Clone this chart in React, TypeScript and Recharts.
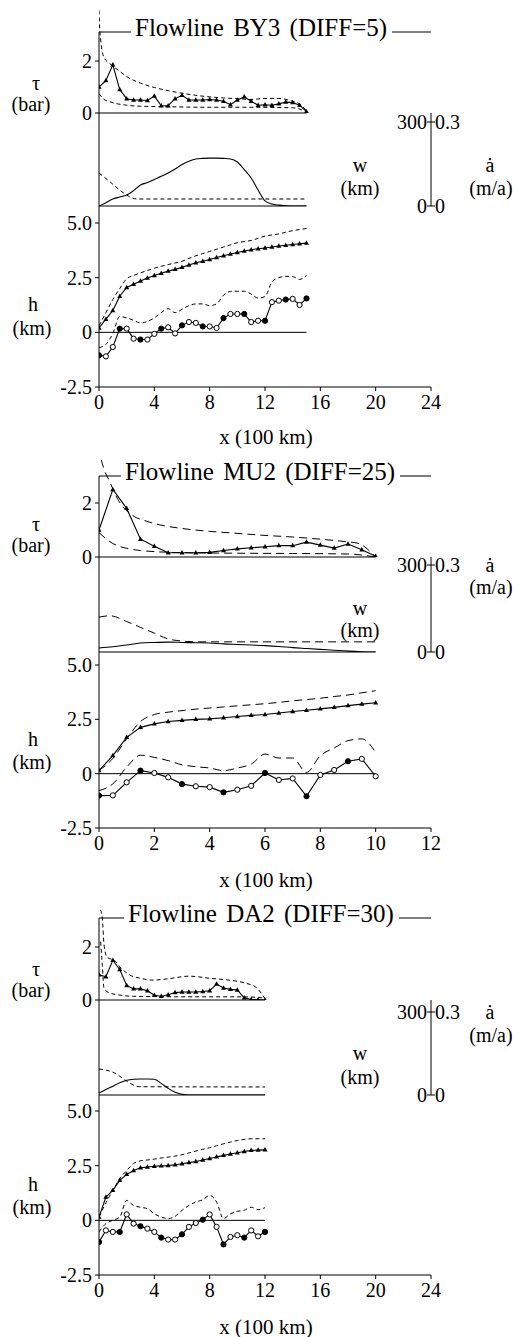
import React from "react";
import { ComposedChart, Line, XAxis, YAxis, ReferenceLine } from "recharts";

const FONT = "Liberation Serif, Times New Roman, Times, serif";

// ---------- Flowline BY3 (DIFF=5) ----------
const BY3_X = [0, 0.5, 1, 1.5, 2, 2.5, 3, 3.5, 4, 4.5, 5, 5.5, 6, 6.5, 7, 7.5, 8, 8.5, 9, 9.5, 10, 10.5, 11, 11.5, 12, 12.5, 13, 13.5, 14, 14.5, 15];
const BY3_TAU = [1.0, 1.25, 1.85, 0.9, 0.55, 0.5, 0.5, 0.48, 0.65, 0.28, 0.28, 0.55, 0.68, 0.5, 0.5, 0.5, 0.52, 0.5, 0.45, 0.32, 0.5, 0.62, 0.45, 0.3, 0.32, 0.3, 0.35, 0.42, 0.4, 0.3, 0.05];
const BY3_TAU_HI_X = [0, 0.07, 0.35, 0.9, 1.5, 2, 3, 4, 5, 6, 7, 8, 9, 10, 11, 12, 13, 14, 14.5, 15];
const BY3_TAU_HI = [3.95, 3.1, 2.15, 1.85, 1.6, 1.4, 1.15, 0.98, 0.86, 0.76, 0.68, 0.62, 0.58, 0.55, 0.52, 0.56, 0.56, 0.45, 0.35, 0.08];
const BY3_TAU_LO_X = [0, 0.3, 0.8, 2, 3, 5, 8, 11, 14, 15];
const BY3_TAU_LO = [0.75, 0.55, 0.43, 0.3, 0.26, 0.24, 0.22, 0.22, 0.2, 0.05];
const BY3_W = [0, 12, 25, 32, 39, 55, 75, 84, 95, 106, 118, 132, 148, 160, 168, 170, 171, 171, 170, 168, 157, 130, 100, 57, 18, 7, 3, 1, 0, 0, 0];
const BY3_ACC_X = [0, 0.8, 1.5, 2.25, 2.75, 15];
const BY3_ACC = [0.118, 0.086, 0.057, 0.032, 0.025, 0.025];
const BY3_SURF = [0.2, 0.6, 1.0, 1.65, 2.05, 2.2, 2.35, 2.48, 2.6, 2.7, 2.8, 2.88, 2.97, 3.08, 3.18, 3.25, 3.33, 3.42, 3.5, 3.58, 3.65, 3.72, 3.78, 3.82, 3.86, 3.9, 3.95, 3.98, 4.02, 4.05, 4.08];
const BY3_SURF_HI = [0.3, 0.9, 1.5, 2.0, 2.45, 2.6, 2.72, 2.83, 2.93, 3.02, 3.1, 3.17, 3.25, 3.38, 3.5, 3.6, 3.7, 3.8, 3.9, 4.0, 4.1, 4.15, 4.2, 4.3, 4.4, 4.45, 4.5, 4.58, 4.65, 4.7, 4.75];
const BY3_BED = [-1.05, -1.1, -0.67, 0.17, 0.17, -0.29, -0.33, -0.33, -0.07, 0.17, 0.23, -0.05, 0.32, 0.47, 0.43, 0.27, 0.27, 0.2, 0.65, 0.84, 0.84, 0.84, 0.47, 0.53, 0.53, 1.38, 1.45, 1.5, 1.53, 1.25, 1.55];
const BY3_BED_HI = [-0.7, -0.55, -0.05, 0.72, 0.66, 0.55, 0.43, 0.5, 0.66, 0.9, 1.08, 0.9, 1.05, 1.22, 1.3, 1.3, 1.22, 1.3, 1.7, 1.87, 1.88, 1.88, 1.75, 1.57, 1.64, 2.3, 2.5, 2.56, 2.55, 2.42, 2.6];
const BY3_XTICKS = [0, 4, 8, 12, 16, 20, 24];

// ---------- Flowline MU2 (DIFF=25) ----------
const MU2_X = [0, 0.5, 1, 1.5, 2, 2.5, 3, 3.5, 4, 4.5, 5, 5.5, 6, 6.5, 7, 7.5, 8, 8.5, 9, 9.5, 10];
const MU2_TAU = [1.0, 2.5, 1.8, 0.66, 0.4, 0.16, 0.16, 0.16, 0.17, 0.24, 0.3, 0.34, 0.38, 0.42, 0.42, 0.55, 0.44, 0.33, 0.48, 0.27, 0.03];
const MU2_TAU_HI_X = [0.08, 0.2, 0.36, 0.7, 1.2, 1.7, 2.2, 2.9, 4, 4.8, 6, 7, 8, 8.9, 9.4, 9.75, 10];
const MU2_TAU_HI = [3.6, 3.2, 2.85, 2.1, 1.55, 1.33, 1.19, 1.07, 0.95, 0.89, 0.8, 0.74, 0.66, 0.57, 0.5, 0.25, 0.0];
const MU2_TAU_LO_X = [0, 0.5, 1, 1.5, 2, 3, 5, 7, 9, 10];
const MU2_TAU_LO = [0.9, 0.5, 0.32, 0.24, 0.2, 0.16, 0.14, 0.13, 0.11, 0.0];
const MU2_W = [14, 18, 24, 31, 33, 34, 33, 32, 31, 28, 26, 24, 22, 19, 15, 12, 9, 6, 3, 1, 0];
const MU2_ACC_X = [0, 0.4, 1, 1.5, 2, 2.5, 3, 3.5, 10];
const MU2_ACC = [0.12, 0.125, 0.105, 0.085, 0.065, 0.045, 0.038, 0.035, 0.035];
const MU2_SURF = [0.14, 0.83, 1.67, 2.13, 2.29, 2.4, 2.45, 2.5, 2.52, 2.57, 2.63, 2.68, 2.72, 2.79, 2.86, 2.92, 2.98, 3.05, 3.13, 3.2, 3.26];
const MU2_SURF_HI = [0.14, 0.7, 1.6, 2.4, 2.72, 2.83, 2.9, 2.97, 3.02, 3.07, 3.12, 3.17, 3.22, 3.28, 3.35, 3.41, 3.47, 3.55, 3.62, 3.72, 3.82];
const MU2_BED = [-1.01, -1.0, -0.4, 0.14, 0.03, -0.17, -0.48, -0.58, -0.62, -0.86, -0.74, -0.56, 0.03, -0.29, -0.22, -1.04, -0.06, 0.17, 0.57, 0.68, -0.12];
const MU2_BED_HI = [-0.78, -0.47, 0.3, 0.85, 0.75, 0.6, 0.41, 0.32, 0.26, 0.14, 0.26, 0.44, 0.9, 0.72, 0.72, 0.06, 0.83, 1.18, 1.52, 1.6, 0.98];
const MU2_XTICKS = [0, 2, 4, 6, 8, 10, 12];

// ---------- Flowline DA2 (DIFF=30) ----------
const DA2_X = [0, 0.5, 1, 1.5, 2, 2.5, 3, 3.5, 4, 4.5, 5, 5.5, 6, 6.5, 7, 7.5, 8, 8.5, 9, 9.5, 10, 10.5, 11, 11.5, 12];
const DA2_TAU = [0.95, 0.88, 1.5, 1.15, 0.55, 0.42, 0.42, 0.35, 0.18, 0.14, 0.2, 0.28, 0.3, 0.3, 0.3, 0.32, 0.35, 0.6, 0.45, 0.4, 0.38, 0.08, 0.02, 0.01, 0.0];
const DA2_TAU_HI_X = [0.1, 0.24, 0.36, 0.6, 1.1, 1.6, 2.2, 3, 3.8, 5, 6.5, 8, 9.4, 10.5, 11.4, 11.8, 12];
const DA2_TAU_HI = [3.4, 3.1, 2.1, 1.6, 1.5, 1.2, 0.95, 0.82, 0.75, 0.8, 0.9, 0.82, 0.75, 0.65, 0.46, 0.2, 0.05];
const DA2_TAU_LO_X = [0.12, 0.24, 0.36, 0.7, 1.45, 2.5, 4, 6, 8, 10, 11.5, 12];
const DA2_TAU_LO = [2.2, 1.3, 0.45, 0.28, 0.19, 0.14, 0.13, 0.12, 0.12, 0.12, 0.1, 0.05];
const DA2_W = [7, 20, 32, 44, 53, 57, 58, 58, 57, 42, 24, 10, 3, 0, 0, 0, 0, 0, 0, 0, 0, 0, 0, 0, 0];
const DA2_ACC_X = [0, 1.2, 2, 2.9, 12];
const DA2_ACC = [0.094, 0.078, 0.05, 0.03, 0.029];
const DA2_SURF = [0.15, 1.06, 1.37, 1.83, 2.1, 2.28, 2.4, 2.44, 2.47, 2.49, 2.5, 2.54, 2.59, 2.64, 2.69, 2.76, 2.83, 2.9, 2.97, 3.03, 3.09, 3.15, 3.2, 3.21, 3.22];
const DA2_SURF_HI = [0.15, 0.8, 1.37, 1.9, 2.28, 2.6, 2.72, 2.76, 2.8, 2.85, 2.89, 2.94, 3.0, 3.08, 3.17, 3.25, 3.32, 3.41, 3.5, 3.58, 3.65, 3.7, 3.73, 3.73, 3.73];
const DA2_BED = [-0.99, -0.46, -0.53, -0.53, 0.27, -0.15, -0.27, -0.38, -0.53, -0.79, -0.88, -0.88, -0.64, -0.3, -0.12, 0.03, 0.27, -0.3, -1.1, -0.76, -0.68, -0.79, -0.46, -0.73, -0.53];
const DA2_BED_HI = [-0.53, -0.15, 0, 0.15, 0.91, 0.68, 0.6, 0.53, 0.3, 0.15, 0.08, 0.18, 0.46, 0.68, 0.84, 0.94, 1.14, 0.84, 0.08, 0.3, 0.41, 0.46, 0.6, 0.49, 0.58];
const DA2_XTICKS = [0, 4, 8, 12, 16, 20, 24];

const TAU_TICKS = [0, 2];
const H_TICKS = [-2.5, 0, 2.5, 5];
const RATE_TICKS = [0, 0.3];

type Pt = { x: number; v: number };
const pts = (xs: number[], vs: number[]): Pt[] => xs.map((x, i) => ({ x, v: vs[i] }));

const TSTYLE: React.CSSProperties = { fontFamily: FONT, fontSize: 20, fill: "#000" };
const W = 518;
const PLOT_L = 99;
const PLOT_R = 431;
const YW = 50;

function TriDot(props: any) {
  const { cx, cy, index } = props;
  if (cx == null || cy == null) return <g key={`t${index}`} />;
  return (
    <path
      key={`t${index}`}
      d={`M${cx},${cy - 2.8}L${cx + 2.5},${cy + 1.7}L${cx - 2.5},${cy + 1.7}Z`}
      fill="#000"
    />
  );
}

function BedDot(props: any) {
  const { cx, cy, index } = props;
  if (cx == null || cy == null) return <g key={`b${index}`} />;
  return (
    <circle
      key={`b${index}`}
      cx={cx}
      cy={cy}
      r={2.6}
      fill={index % 3 === 0 ? "#000" : "#fff"}
      stroke="#000"
      strokeWidth={1}
    />
  );
}

// SVG tick labels in the serif face (attribute + style so the font always sticks)
function SerifText(props: any) {
  const { children, ...rest } = props;
  return (
    <text {...rest} fontFamily={FONT} fontSize={20} fill="#000" style={TSTYLE}>
      {children}
    </text>
  );
}

function YTick(props: any) {
  const v = props.payload.value as number;
  return (
    <SerifText x={props.x} y={props.y} dy="0.35em" textAnchor="end">
      {v === 0 || v === 2 ? String(v) : v.toFixed(1)}
    </SerifText>
  );
}

function XTick(props: any) {
  return (
    <SerifText x={props.x} y={props.y} dy="0.74em" textAnchor="middle">
      {String(props.payload.value)}
    </SerifText>
  );
}

function RateTick(props: any) {
  const { x, y, payload } = props;
  const v = payload.value as number;
  return (
    <g>
      <line x1={x - 4} x2={x + 4} y1={y} y2={y} stroke="#000" />
      <SerifText x={x - 4} y={y} dy="0.36em" textAnchor="end">
        {String(Math.round(v * 1000))}
      </SerifText>
      <SerifText x={x + 4} y={y} dy="0.36em" textAnchor="start">
        {v === 0 ? "0" : String(v)}
      </SerifText>
    </g>
  );
}

function Txt({ x, y, children, size = 20 }: { x: number; y: number; children: React.ReactNode; size?: number }) {
  return (
    <div
      style={{
        position: "absolute",
        left: x,
        top: y,
        transform: "translate(-50%, -50%)",
        fontFamily: FONT,
        fontSize: size,
        lineHeight: 1,
        whiteSpace: "nowrap",
        color: "#000",
      }}
    >
      {children}
    </div>
  );
}

interface PanelProps {
  title: string;
  titleX: number;
  frameY: number;
  tau0Y: number;
  tauPx: number;
  wBaseY: number;
  w300Y: number;
  h5Y: number;
  hBotY: number;
  xMax: number;
  xTicks: number[];
  xEnd: number;
  dash: string;
  tau: Pt[];
  tauHi: Pt[];
  tauLo: Pt[];
  w: Pt[];
  acc: Pt[];
  surf: Pt[];
  surfHi: Pt[];
  bed: Pt[];
  bedHi: Pt[];
  lab: {
    tau: number;
    bar: number;
    h: number;
    hkm: number;
    w: number;
    wkm: number;
    a: number;
    am: number;
    x: number;
  };
}

function Panel(p: PanelProps) {
  const xDom: [number, number] = [0, p.xMax];
  const tauTop = p.frameY - 24;
  const tauH = p.tau0Y - tauTop;
  const tauMax = tauH / p.tauPx;
  const tauFrame = (p.tau0Y - p.frameY) / p.tauPx;

  const midH = p.wBaseY - p.tau0Y;
  const wPx = (p.wBaseY - p.w300Y) / 300;
  const wMax = midH / wPx;

  const hPx = (p.hBotY - p.h5Y) / 7.5;
  const hH = p.hBotY - p.wBaseY;
  const hMax = -2.5 + hH / hPx;

  const dashed = { stroke: "#000", strokeWidth: 1, strokeDasharray: p.dash, dot: false, isAnimationActive: false } as const;

  return (
    <>
      {/* shear stress */}
      <div style={{ position: "absolute", left: 0, top: tauTop }}>
        <ComposedChart width={W} height={tauH + 14} margin={{ top: 0, right: W - PLOT_R, bottom: 14, left: PLOT_L - YW }} style={{ fontFamily: FONT }}>
          <XAxis type="number" dataKey="x" domain={xDom} hide allowDataOverflow />
          <YAxis
            type="number"
            domain={[0, tauMax]}
            ticks={TAU_TICKS}
            interval={0}
            width={YW}
            axisLine={false}
            tickLine={{ stroke: "#000" }}
            tickSize={4}
            tickMargin={3}
            tick={YTick}
            allowDataOverflow
          />
          <ReferenceLine segment={[{ x: 0, y: 0 }, { x: 0, y: tauFrame }]} stroke="#000" ifOverflow="visible" />
          <ReferenceLine segment={[{ x: 0, y: tauFrame }, { x: p.xMax, y: tauFrame }]} stroke="#000" ifOverflow="visible" />
          <ReferenceLine segment={[{ x: 0, y: 0 }, { x: p.xEnd, y: 0 }]} stroke="#000" ifOverflow="visible" />
          <Line data={p.tauHi} dataKey="v" type="monotone" {...dashed} />
          <Line data={p.tauLo} dataKey="v" type="monotone" {...dashed} />
          <Line data={p.tau} dataKey="v" type="linear" stroke="#000" strokeWidth={1.1} dot={TriDot} isAnimationActive={false} />
        </ComposedChart>
      </div>

      {/* width and accumulation */}
      <div style={{ position: "absolute", left: 0, top: p.tau0Y - 12 }}>
        <ComposedChart width={W} height={midH + 26} margin={{ top: 12, right: W - PLOT_R - YW, bottom: 14, left: PLOT_L - YW }} style={{ fontFamily: FONT }}>
          <XAxis type="number" dataKey="x" domain={xDom} hide allowDataOverflow />
          <YAxis yAxisId="w" type="number" domain={[0, wMax]} width={YW} tick={false} tickLine={false} axisLine={{ stroke: "#000" }} allowDataOverflow />
          <YAxis
            yAxisId="a"
            orientation="right"
            type="number"
            domain={[0, wMax / 1000]}
            ticks={RATE_TICKS}
            interval={0}
            width={YW}
            tickSize={0}
            tickMargin={0}
            tickLine={false}
            tick={RateTick}
            axisLine={{ stroke: "#000" }}
            allowDataOverflow
          />
          <ReferenceLine yAxisId="w" segment={[{ x: 0, y: 0 }, { x: p.xEnd, y: 0 }]} stroke="#000" ifOverflow="visible" />
          <Line yAxisId="a" data={p.acc} dataKey="v" type="monotone" {...dashed} />
          <Line yAxisId="w" data={p.w} dataKey="v" type="monotone" stroke="#000" strokeWidth={1.1} dot={false} isAnimationActive={false} />
        </ComposedChart>
      </div>

      {/* elevation */}
      <div style={{ position: "absolute", left: 0, top: p.wBaseY - 4 }}>
        <ComposedChart width={W} height={hH + 44} margin={{ top: 4, right: W - PLOT_R, bottom: 0, left: PLOT_L - YW }} style={{ fontFamily: FONT }}>
          <XAxis
            type="number"
            dataKey="x"
            domain={xDom}
            ticks={p.xTicks}
            interval={0}
            height={40}
            axisLine={{ stroke: "#000" }}
            tickLine={{ stroke: "#000" }}
            tickSize={4}
            tickMargin={3}
            tick={XTick}
            allowDataOverflow
          />
          <YAxis
            type="number"
            domain={[-2.5, hMax]}
            ticks={H_TICKS}
            interval={0}
            width={YW}
            axisLine={{ stroke: "#000" }}
            tickLine={{ stroke: "#000" }}
            tickSize={4}
            tickMargin={3}
            tick={YTick}
            allowDataOverflow
          />
          <ReferenceLine segment={[{ x: 0, y: 0 }, { x: p.xEnd, y: 0 }]} stroke="#000" ifOverflow="visible" />
          <Line data={p.surfHi} dataKey="v" type="monotone" {...dashed} />
          <Line data={p.bedHi} dataKey="v" type="monotone" {...dashed} />
          <Line data={p.surf} dataKey="v" type="linear" stroke="#000" strokeWidth={1.1} dot={TriDot} isAnimationActive={false} />
          <Line data={p.bed} dataKey="v" type="linear" stroke="#000" strokeWidth={1.1} dot={BedDot} isAnimationActive={false} />
        </ComposedChart>
      </div>

      {/* title sitting on the frame line */}
      <div
        style={{
          position: "absolute",
          left: p.titleX - 4,
          top: p.frameY - 17,
          fontFamily: FONT,
          fontSize: 25,
          lineHeight: "25px",
          wordSpacing: 3,
          background: "#fff",
          padding: "0 5px 0 4px",
          whiteSpace: "nowrap",
          color: "#000",
        }}
      >
        {p.title}
      </div>

      <Txt x={36} y={p.lab.tau}>τ</Txt>
      <Txt x={31} y={p.lab.bar}>(bar)</Txt>
      <Txt x={33} y={p.lab.h}>h</Txt>
      <Txt x={32} y={p.lab.hkm}>(km)</Txt>
      <Txt x={360} y={p.lab.w}>w</Txt>
      <Txt x={360} y={p.lab.wkm}>(km)</Txt>
      <Txt x={490} y={p.lab.a}>ȧ</Txt>
      <Txt x={491} y={p.lab.am}>(m/a)</Txt>
      <Txt x={266} y={p.lab.x} size={21}>x (100 km)</Txt>
    </>
  );
}

export default function App() {
  return (
    <div style={{ position: "absolute", left: 0, top: 0, width: 518, height: 1337, background: "#fff" }}>
      <Panel
        title="Flowline BY3 (DIFF=5)"
        titleX={135}
        frameY={32}
        tau0Y={113}
        tauPx={26}
        wBaseY={206}
        w300Y={122}
        h5Y={223}
        hBotY={387}
        xMax={24}
        xTicks={BY3_XTICKS}
        xEnd={15}
        dash="4 3"
        tau={pts(BY3_X, BY3_TAU)}
        tauHi={pts(BY3_TAU_HI_X, BY3_TAU_HI)}
        tauLo={pts(BY3_TAU_LO_X, BY3_TAU_LO)}
        w={pts(BY3_X, BY3_W)}
        acc={pts(BY3_ACC_X, BY3_ACC)}
        surf={pts(BY3_X, BY3_SURF)}
        surfHi={pts(BY3_X, BY3_SURF_HI)}
        bed={pts(BY3_X, BY3_BED)}
        bedHi={pts(BY3_X, BY3_BED_HI)}
        lab={{ tau: 83, bar: 104, h: 304, hkm: 328, w: 165, wkm: 188, a: 165, am: 188, x: 437 }}
      />
      <Panel
        title="Flowline MU2 (DIFF=25)"
        titleX={125}
        frameY={476}
        tau0Y={557}
        tauPx={27}
        wBaseY={652}
        w300Y={565}
        h5Y={665}
        hBotY={828}
        xMax={12}
        xTicks={MU2_XTICKS}
        xEnd={10}
        dash="8 5"
        tau={pts(MU2_X, MU2_TAU)}
        tauHi={pts(MU2_TAU_HI_X, MU2_TAU_HI)}
        tauLo={pts(MU2_TAU_LO_X, MU2_TAU_LO)}
        w={pts(MU2_X, MU2_W)}
        acc={pts(MU2_ACC_X, MU2_ACC)}
        surf={pts(MU2_X, MU2_SURF)}
        surfHi={pts(MU2_X, MU2_SURF_HI)}
        bed={pts(MU2_X, MU2_BED)}
        bedHi={pts(MU2_X, MU2_BED_HI)}
        lab={{ tau: 524, bar: 545, h: 739, hkm: 762, w: 608, wkm: 630, a: 565, am: 587, x: 880 }}
      />
      <Panel
        title="Flowline DA2 (DIFF=30)"
        titleX={128}
        frameY={918}
        tau0Y={1000}
        tauPx={26.5}
        wBaseY={1095}
        w300Y={1012}
        h5Y={1111}
        hBotY={1275}
        xMax={24}
        xTicks={DA2_XTICKS}
        xEnd={12}
        dash="4 3"
        tau={pts(DA2_X, DA2_TAU)}
        tauHi={pts(DA2_TAU_HI_X, DA2_TAU_HI)}
        tauLo={pts(DA2_TAU_LO_X, DA2_TAU_LO)}
        w={pts(DA2_X, DA2_W)}
        acc={pts(DA2_ACC_X, DA2_ACC)}
        surf={pts(DA2_X, DA2_SURF)}
        surfHi={pts(DA2_X, DA2_SURF_HI)}
        bed={pts(DA2_X, DA2_BED)}
        bedHi={pts(DA2_X, DA2_BED_HI)}
        lab={{ tau: 969, bar: 990, h: 1184, hkm: 1207, w: 1053, wkm: 1077, a: 1012, am: 1035, x: 1327 }}
      />
    </div>
  );
}
